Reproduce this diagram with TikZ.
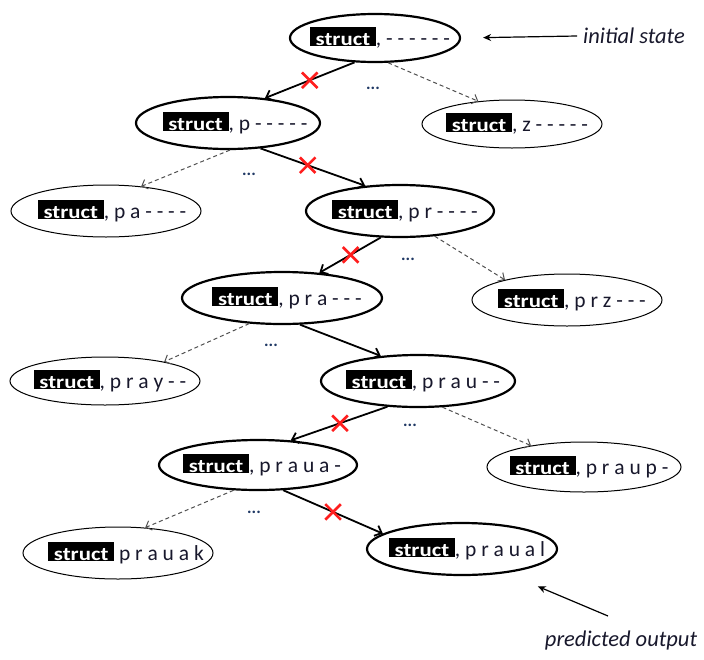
\documentclass[tikz,border=0pt]{standalone}
\usepackage{fontspec}
\setmainfont{Carlito}
\usetikzlibrary{shapes.geometric,shapes.misc,arrows.meta,calc}

\definecolor{txt}{RGB}{24,24,44}
\definecolor{dots}{RGB}{31,56,100}
\definecolor{dash}{RGB}{80,80,80}
\definecolor{xred}{RGB}{255,30,30}

% black tile holding the word "struct"
\newcommand\stimg{\raisebox{0.5pt}{\setlength\fboxsep{0pt}\colorbox{black}{\makebox[66pt]{\rule[-1pt]{0pt}{19pt}\color{white}\fontsize{19}{19}\selectfont\bfseries\scalebox{1.2}[1]{struct}}}}}

\begin{document}
\begin{tikzpicture}[x=1pt,y=-1pt,
  ell/.style={ellipse,draw=black,inner sep=0pt,fill=none},
  bold/.style={ell,line width=2.2pt},
  thin/.style={ell,line width=1pt},
  lbl/.style={inner sep=0pt,text=txt,font=\fontsize{21.5}{24}\selectfont},
  chosen/.style={draw=black,line width=1.8pt,-{Straight Barb[length=6pt,width=11pt]}},
  other/.style={draw=dash,line width=1pt,dash pattern=on 4pt off 3pt,-{Straight Barb[length=5pt,width=10pt]}},
  xmark/.style={cross out,draw=xred,line width=2.6pt,minimum size=13pt,inner sep=0pt},
  more/.style={text=dots,font=\fontsize{17}{17}\selectfont\bfseries,inner sep=0pt},
  note/.style={text=txt,font=\fontsize{22.5}{26}\selectfont\itshape,inner sep=0pt},
  pointer/.style={draw=black,line width=1.2pt,-{Stealth[length=8pt,width=7pt]}}]

\fill[white] (0,0) rectangle (704,659);
\useasboundingbox (0,0) rectangle (704,659);

% search states
\node[bold,minimum width=170pt,minimum height=48pt] (e1) at (375,38) {};
\node[bold,minimum width=184pt,minimum height=52pt] (e2) at (228,123) {};
\node[thin,minimum width=180pt,minimum height=48pt] (e3) at (512,124) {};
\node[thin,minimum width=190pt,minimum height=52pt] (e4) at (106,211) {};
\node[bold,minimum width=188pt,minimum height=52pt] (e5) at (400,211) {};
\node[bold,minimum width=200pt,minimum height=52pt] (e6) at (282,298) {};
\node[thin,minimum width=190pt,minimum height=52pt] (e7) at (567,300) {};
\node[thin,minimum width=190pt,minimum height=48pt] (e8) at (105,381) {};
\node[bold,minimum width=194pt,minimum height=52pt] (e9) at (418,381) {};
\node[bold,minimum width=198pt,minimum height=50pt] (e10) at (258,465) {};
\node[thin,minimum width=194pt,minimum height=50pt] (e11) at (584,467) {};
\node[thin,minimum width=190pt,minimum height=52pt] (e12) at (118,553) {};
\node[bold,minimum width=190pt,minimum height=52pt] (e13) at (462,549) {};

% state contents
\node[lbl] (t1) at ($(e1)+(5,0)$) {\stimg, - - - - - -};
\node[lbl] (t2) at ($(e2)+(7,0)$) {\stimg, p - - - - -};
\node[lbl] (t3) at ($(e3)+(5,0)$) {\stimg, z - - - - -};
\node[lbl] (t4) at ($(e4)+(6,0)$) {\stimg, p a - - - -};
\node[lbl] (t5) at ($(e5)+(5,0)$) {\stimg, p r - - - -};
\node[lbl] (t6) at ($(e6)+(5,0)$) {\stimg, p r a - - -};
\node[lbl] (t7) at ($(e7)+(5,0)$) {\stimg, p r z - - -};
\node[lbl] (t8) at ($(e8)+(5,0)$) {\stimg, p r a y - -};
\node[lbl] (t9) at ($(e9)+(5,0)$) {\stimg, p r a u - -};
\node[lbl] (t10) at ($(e10)+(4,0)$) {\stimg, p r a u a -};
\node[lbl] (t11) at ($(e11)+(5,0)$) {\stimg, p r a u p -};
\node[lbl] (t12) at ($(e12)+(8,0)$) {\stimg\ p r a u a k};
\node[lbl] (t13) at ($(e13)+(5,0)$) {\stimg, p r a u a l};

% expansions
\draw[chosen] (e1.230) -- node[xmark,pos=0.5] (x1) {} (e2.34);
\draw[other] (e1.298) -- (e3.146);
\draw[other] (e2.274) -- (e4.35);
\draw[chosen] (e2.322) -- node[xmark,pos=0.45] (x2) {} (e5.144);
\draw[chosen] (e5.234) -- node[xmark,pos=0.49] (x3) {} (e6.34);
\draw[other] (e5.324) -- (e7.162);
\draw[other] (e6.218) -- (e8.18);
\draw[chosen] (e6.304) -- (e9.146);
\draw[chosen] (e9.220) -- node[xmark,pos=0.49] (x4) {} (e10.37);
\draw[other] (e9.313) -- (e11.158);
\draw[other] (e10.226) -- (e12.43);
\draw[chosen] (e10.315) -- node[xmark,pos=0.5] (x5) {} (e13.169);

% omitted siblings
\node[more] (d1) at (373,88) {...};
\node[more] (d2) at (249,174) {...};
\node[more] (d3) at (408,259) {...};
\node[more] (d4) at (271,345) {...};
\node[more] (d5) at (410,425) {...};
\node[more] (d6) at (254,512) {...};

% annotations
\node[note] (init) at (634,36) {initial state};
\node[note] (pred) at (621,640) {predicted output};
\draw[pointer,shorten >=22pt] (init.west) ++(-6,0) coordinate (ia) (ia) -- (e1.east);
\coordinate (pa) at (608,616);
\draw[pointer] (pa) -- ($(e13.340)+(17,16)$) coordinate (pt);
\end{tikzpicture}
\end{document}
